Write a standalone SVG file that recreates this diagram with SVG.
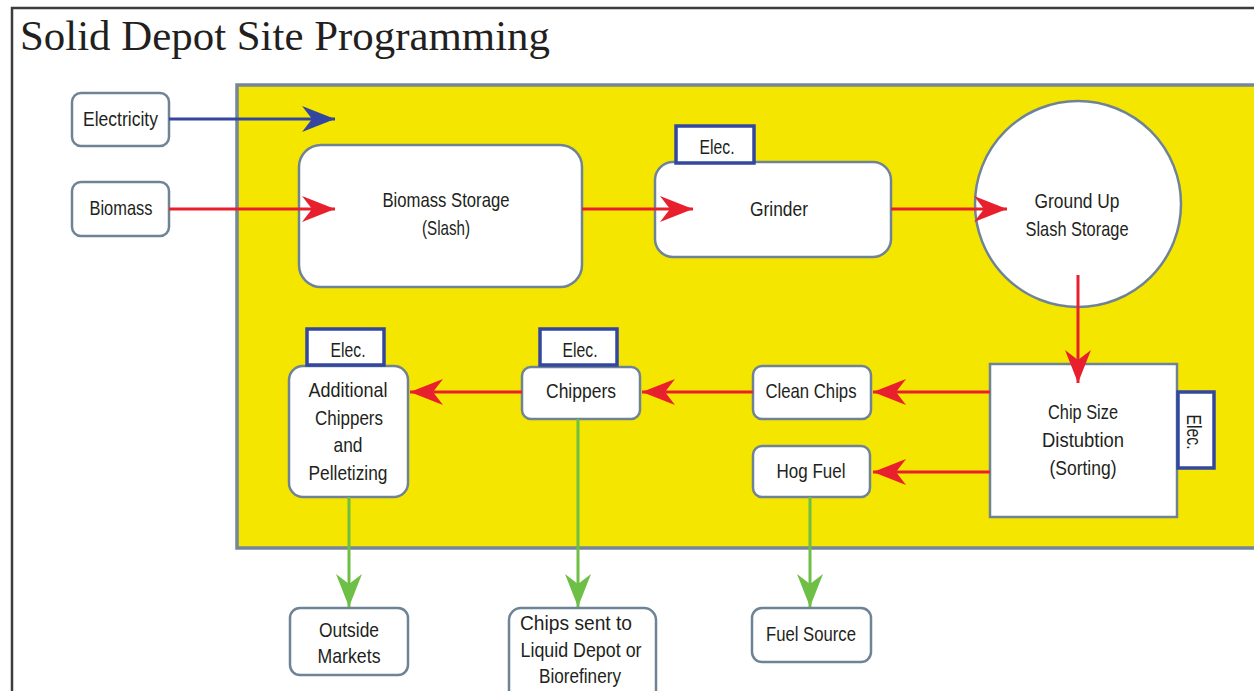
<svg xmlns="http://www.w3.org/2000/svg" width="1254" height="691" viewBox="0 0 1254 691">
  <style>
    .box { fill: #ffffff; stroke: #6f8397; stroke-width: 2.5; }
    .elec { fill: #ffffff; stroke: #3347a0; stroke-width: 3.5; }
    .lbl { font-family: "Liberation Sans", Arial, sans-serif; font-size: 21px; fill: #231f20; text-anchor: middle; }
    .red { stroke: #e8202e; stroke-width: 3; fill: none; }
    .blue { stroke: #3347a0; stroke-width: 3; fill: none; }
    .green { stroke: #6dbf45; stroke-width: 3; fill: none; }
  </style>
  <defs>
    <marker id="head-red" markerUnits="userSpaceOnUse" markerWidth="40" markerHeight="30" viewBox="-36 -15 40 30" refX="0" refY="0" orient="auto">
      <path d="M0,0 L-33,-13 L-23,0 L-33,13 Z" fill="#e8202e"/>
    </marker>
    <marker id="head-blue" markerUnits="userSpaceOnUse" markerWidth="40" markerHeight="30" viewBox="-36 -15 40 30" refX="0" refY="0" orient="auto">
      <path d="M0,0 L-33,-13 L-23,0 L-33,13 Z" fill="#3347a0"/>
    </marker>
    <marker id="head-green" markerUnits="userSpaceOnUse" markerWidth="40" markerHeight="30" viewBox="-36 -15 40 30" refX="0" refY="0" orient="auto">
      <path d="M0,0 L-33,-13 L-23,0 L-33,13 Z" fill="#6dbf45"/>
    </marker>
  </defs>

  <rect width="1254" height="691" fill="#ffffff"/>
  <!-- page frame -->
  <rect x="12" y="8" width="1260" height="700" fill="none" stroke="#3c3c3c" stroke-width="2.5"/>
  <text x="20" y="50" font-family="Liberation Serif, 'Times New Roman', serif" font-size="42" fill="#231f20" textLength="530" lengthAdjust="spacingAndGlyphs">Solid Depot Site Programming</text>

  <!-- site area -->
  <rect id="site" x="237" y="85" width="1030" height="463" fill="#f5e600" stroke="#74879a" stroke-width="3.5"/>

  <g id="electricity">
    <rect class="box" x="72" y="93" width="97" height="53" rx="9"/>
    <text class="lbl" x="120.5" y="126" textLength="75" lengthAdjust="spacingAndGlyphs">Electricity</text>
  </g>
  <g id="biomass">
    <rect class="box" x="72" y="182" width="97" height="54" rx="9"/>
    <text class="lbl" x="121" y="215" textLength="63" lengthAdjust="spacingAndGlyphs">Biomass</text>
  </g>
  <g id="biomass-storage">
    <rect class="box" x="299" y="145" width="283" height="142" rx="22"/>
    <text class="lbl" x="446" y="207" textLength="127" lengthAdjust="spacingAndGlyphs">Biomass Storage</text>
    <text class="lbl" x="446" y="235" textLength="48" lengthAdjust="spacingAndGlyphs">(Slash)</text>
  </g>
  <g id="grinder">
    <rect class="box" x="655" y="162" width="236" height="95" rx="18"/>
    <text class="lbl" x="779" y="216" textLength="58" lengthAdjust="spacingAndGlyphs">Grinder</text>
  </g>
  <g id="grinder-elec">
    <rect class="elec" x="676" y="126" width="78" height="37"/>
    <text class="lbl" x="717" y="154" textLength="35" lengthAdjust="spacingAndGlyphs">Elec.</text>
  </g>
  <g id="ground-up-storage">
    <circle class="box" cx="1078" cy="204" r="103"/>
    <text class="lbl" x="1077" y="208" textLength="85" lengthAdjust="spacingAndGlyphs">Ground Up</text>
    <text class="lbl" x="1077" y="236" textLength="103" lengthAdjust="spacingAndGlyphs">Slash Storage</text>
  </g>
  <g id="chip-size">
    <rect class="box" x="990" y="364" width="187" height="153"/>
    <text class="lbl" x="1083" y="419" textLength="70" lengthAdjust="spacingAndGlyphs">Chip Size</text>
    <text class="lbl" x="1083" y="447" textLength="82" lengthAdjust="spacingAndGlyphs">Distubtion</text>
    <text class="lbl" x="1083" y="475" textLength="67" lengthAdjust="spacingAndGlyphs">(Sorting)</text>
  </g>
  <g id="chip-size-elec">
    <rect class="elec" x="1178" y="392" width="36" height="76"/>
    <text class="lbl" transform="translate(1187,432) rotate(90)" x="0" y="0" textLength="35" lengthAdjust="spacingAndGlyphs">Elec.</text>
  </g>
  <g id="clean-chips">
    <rect class="box" x="753" y="366" width="118" height="53" rx="9"/>
    <text class="lbl" x="811" y="398" textLength="91" lengthAdjust="spacingAndGlyphs">Clean Chips</text>
  </g>
  <g id="hog-fuel">
    <rect class="box" x="753" y="446" width="117" height="51" rx="9"/>
    <text class="lbl" x="811" y="478" textLength="69" lengthAdjust="spacingAndGlyphs">Hog Fuel</text>
  </g>
  <g id="chippers">
    <rect class="box" x="522" y="367" width="118" height="52" rx="9"/>
    <text class="lbl" x="581" y="398" textLength="70" lengthAdjust="spacingAndGlyphs">Chippers</text>
  </g>
  <g id="chippers-elec">
    <rect class="elec" x="540" y="329" width="77" height="36"/>
    <text class="lbl" x="580" y="357" textLength="35" lengthAdjust="spacingAndGlyphs">Elec.</text>
  </g>
  <g id="additional-chippers">
    <rect class="box" x="289" y="366" width="119" height="131" rx="14"/>
    <text class="lbl" x="348" y="397" textLength="79" lengthAdjust="spacingAndGlyphs">Additional</text>
    <text class="lbl" x="349" y="425" textLength="68" lengthAdjust="spacingAndGlyphs">Chippers</text>
    <text class="lbl" x="348" y="452" textLength="29" lengthAdjust="spacingAndGlyphs">and</text>
    <text class="lbl" x="348" y="480" textLength="79" lengthAdjust="spacingAndGlyphs">Pelletizing</text>
  </g>
  <g id="additional-elec">
    <rect class="elec" x="307" y="329" width="77" height="36"/>
    <text class="lbl" x="348" y="357" textLength="35" lengthAdjust="spacingAndGlyphs">Elec.</text>
  </g>
  <g id="outside-markets">
    <rect class="box" x="290" y="608" width="118" height="67" rx="10"/>
    <text class="lbl" x="349" y="637" textLength="60" lengthAdjust="spacingAndGlyphs">Outside</text>
    <text class="lbl" x="349" y="663" textLength="63" lengthAdjust="spacingAndGlyphs">Markets</text>
  </g>
  <g id="chips-sent">
    <rect class="box" x="509" y="608" width="147" height="100" rx="12"/>
    <text class="lbl" x="576" y="630" textLength="112" lengthAdjust="spacingAndGlyphs">Chips sent to</text>
    <text class="lbl" x="581" y="657" textLength="121" lengthAdjust="spacingAndGlyphs">Liquid Depot or</text>
    <text class="lbl" x="580" y="683" textLength="82" lengthAdjust="spacingAndGlyphs">Biorefinery</text>
  </g>
  <g id="fuel-source">
    <rect class="box" x="752" y="608" width="119" height="54" rx="10"/>
    <text class="lbl" x="811" y="641" textLength="90" lengthAdjust="spacingAndGlyphs">Fuel Source</text>
  </g>

  <!-- flows drawn last so arrowheads sit on top of the boxes they enter -->
  <g id="connectors">
    <line class="blue" x1="169" y1="119" x2="335" y2="119" marker-end="url(#head-blue)"/>
    <line class="red" x1="169" y1="209" x2="335" y2="209" marker-end="url(#head-red)"/>
    <line class="red" x1="582" y1="209" x2="693" y2="209" marker-end="url(#head-red)"/>
    <line class="red" x1="891" y1="209" x2="1007" y2="209" marker-end="url(#head-red)"/>
    <line class="red" x1="1078" y1="275" x2="1078" y2="383" marker-end="url(#head-red)"/>
    <line class="red" x1="990" y1="392" x2="873" y2="392" marker-end="url(#head-red)"/>
    <line class="red" x1="990" y1="472" x2="873" y2="472" marker-end="url(#head-red)"/>
    <line class="red" x1="753" y1="392" x2="642" y2="392" marker-end="url(#head-red)"/>
    <line class="red" x1="522" y1="392" x2="410" y2="392" marker-end="url(#head-red)"/>
    <line class="green" x1="349" y1="497" x2="349" y2="607" marker-end="url(#head-green)"/>
    <line class="green" x1="578" y1="419" x2="578" y2="607" marker-end="url(#head-green)"/>
    <line class="green" x1="810" y1="497" x2="810" y2="607" marker-end="url(#head-green)"/>
  </g>
</svg>
